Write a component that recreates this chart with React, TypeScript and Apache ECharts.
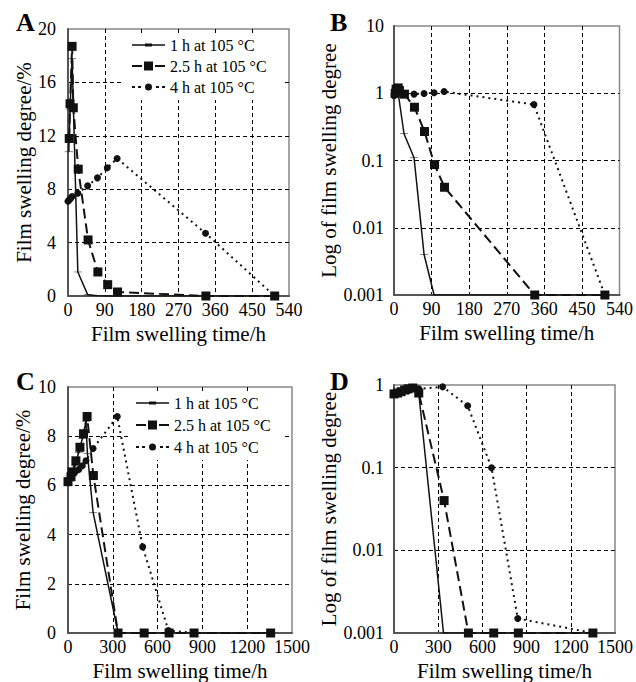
import React, { useEffect, useRef } from 'react';
import * as echarts from 'echarts';

const FONT = 'Liberation Serif';

const seriesNames = ['1 h at 105 °C', '2.5 h at 105 °C', '4 h at 105 °C'];

// Panel A: swelling degree (%) vs time (h)
const a1h = [[2, 10.8], [5, 14.0], [10, 17.8], [24, 1.8], [48, 0.1], [72, 0.02], [96, 0], [120, 0], [336, 0], [504, 0]];
const a25h = [[3, 11.8], [5, 14.4], [10, 18.7], [13, 14.1], [25, 9.5], [49, 4.2], [73, 1.8], [97, 0.85], [121, 0.3], [337, 0], [505, 0]];
const a4h = [[0, 7.1], [3, 7.2], [6, 7.3], [10, 7.45], [24, 7.7], [48, 8.25], [72, 8.85], [96, 9.6], [120, 10.3], [336, 4.7], [505, 0]];

// Panel B: log of swelling degree vs time (h)
const b1h = [[0, 1.0], [3, 1.05], [6, 1.1], [10, 1.0], [24, 0.25], [48, 0.11], [72, 0.004], [96, 0.001], [337, 0.001], [505, 0.001]];
const b25h = [[3, 1.0], [5, 1.15], [10, 1.2], [13, 1.1], [25, 0.97], [49, 0.62], [73, 0.27], [97, 0.087], [121, 0.04], [337, 0.001], [505, 0.001]];
const b4h = [[0, 0.92], [3, 0.95], [6, 1.0], [10, 1.0], [24, 0.97], [48, 0.97], [72, 0.99], [96, 1.02], [120, 1.06], [335, 0.68], [505, 0.001]];

// Panel C: swelling degree (%) vs time (h)
const c1h = [[0, 6.3], [24, 6.5], [48, 6.8], [72, 7.35], [96, 7.9], [120, 8.6], [130, 7.3], [168, 4.9], [336, 0], [504, 0], [672, 0], [840, 0], [1344, 0]];
const c25h = [[0, 6.15], [20, 6.35], [27, 6.55], [53, 7.0], [80, 7.55], [104, 8.1], [128, 8.8], [170, 6.4], [335, 0], [510, 0], [677, 0], [844, 0], [1357, 0]];
const c4h = [[0, 6.2], [24, 6.4], [48, 6.55], [72, 6.65], [96, 6.8], [120, 7.0], [168, 7.5], [330, 8.8], [500, 3.5], [672, 0.1], [844, 0], [1357, 0]];

// Panel D: log of swelling degree vs time (h)
const d1h = [[0, 0.8], [24, 0.82], [48, 0.85], [72, 0.88], [96, 0.9], [120, 0.9], [168, 0.8], [336, 0.001], [504, 0.001], [672, 0.001], [840, 0.001], [1344, 0.001]];
const d25h = [[0, 0.78], [24, 0.8], [48, 0.83], [72, 0.87], [96, 0.9], [128, 0.92], [168, 0.8], [340, 0.04], [505, 0.001], [677, 0.001], [844, 0.001], [1350, 0.001]];
const d4h = [[0, 0.8], [48, 0.82], [96, 0.85], [168, 0.9], [330, 0.95], [500, 0.56], [662, 0.1], [840, 0.0015], [1350, 0.001]];

const panelLetters = ['A', 'B', 'C', 'D'];
const xTitle = 'Film swelling time/h';
const yTitles = ['Film swelling degree/%', 'Log of film swelling degree', 'Film swelling degree/%', 'Log of film swelling degree'];

const panelData = [
  [a1h, a25h, a4h],
  [b1h, b25h, b4h],
  [c1h, c25h, c4h],
  [d1h, d25h, d4h],
];

const grids = [
  { left: 68, top: 29, width: 221, height: 267 },
  { left: 394, top: 26, width: 230, height: 269 },
  { left: 68, top: 387, width: 224, height: 246 },
  { left: 394, top: 385, width: 222, height: 249 },
];

const letterPos = [
  [16, 9], [330, 9], [16, 368], [330, 368],
];

const seriesStyles = [
  { symbol: 'path://M0,0h8v2h-8z', symbolSize: [8, 2], lineStyle: { type: 'solid', width: 1.5 } },
  { symbol: 'rect', symbolSize: 9, lineStyle: { type: [10, 5], width: 2 } },
  { symbol: 'circle', symbolSize: 7, lineStyle: { type: [2, 4], width: 2 } },
];

// legend icons: line pattern with marker, drawn in a 33 x 10 box
const legendIcons = [
  'path://M0,0.5h33v10h-33z',
  'path://M0,4.1h10v1.8h-10z M12,0.5h9v9h-9z M23,4.1h10v1.8h-10z',
  'path://M0,4.1h3v1.8h-3z M6,4.1h3v1.8h-3z M13,5a3.5,3.5 0 1,0 7,0a3.5,3.5 0 1,0 -7,0z M24,4.1h3v1.8h-3z M30,4.1h3v1.8h-3z',
];
legendIcons[0] = 'path://M0,4.3h33v1.4h-33z M13,3.4h7v3.2h-7z';

const logFmt = (v: number) => {
  const e = Math.round(Math.log10(v));
  return e >= 0 ? String(Math.pow(10, e)) : Math.pow(10, e).toFixed(-e);
};

export default function App() {
  const ref = useRef<HTMLDivElement>(null);
  useEffect(() => {
    if (!ref.current) return;
    const chart = echarts.init(ref.current, undefined, { renderer: 'svg' });
    const splitLine = {
      show: true,
      showMinLine: false,
      showMaxLine: false,
      lineStyle: { color: '#000', type: [4, 3], width: 1 },
    };
    const axisLine = { show: true, onZero: false, lineStyle: { color: '#555', width: 2 } };
    const axisLabelBase = { color: '#000', fontFamily: FONT, fontSize: 18, fontWeight: 'normal' };
    const nameStyle = { color: '#000', fontFamily: FONT, fontSize: 21, fontWeight: 'normal' };

    const xAxis = grids.map((_, i) => ({
      type: 'value',
      gridIndex: i,
      min: 0,
      max: i < 2 ? 540 : 1500,
      interval: i < 2 ? 90 : 300,
      axisLine,
      axisTick: { show: false },
      axisLabel: { ...axisLabelBase, margin: 5, formatter: (v: number) => String(v) },
      splitLine,
      name: xTitle,
      nameLocation: 'middle',
      nameGap: 27,
      nameTextStyle: nameStyle,
    }));

    const yAxis = grids.map((_, i) => {
      const base: any = {
        gridIndex: i,
        axisLine,
        axisTick: { show: false },
        splitLine,
        name: yTitles[i],
        nameLocation: 'middle',
        nameRotate: 90,
        nameTextStyle: nameStyle,
      };
      if (i === 0) return { ...base, type: 'value', min: 0, max: 20, interval: 4, nameGap: 34, axisLabel: { ...axisLabelBase, margin: 12 } };
      if (i === 2) return { ...base, type: 'value', min: 0, max: 10, interval: 2, nameGap: 35, axisLabel: { ...axisLabelBase, margin: 12 } };
      return {
        ...base,
        type: 'log',
        logBase: 10,
        min: 0.001,
        max: i === 1 ? 10 : 1,
        nameGap: 54,
        axisLabel: { ...axisLabelBase, margin: 10, formatter: logFmt },
      };
    });

    const series: any[] = [];
    panelData.forEach((sets, gi) => {
      sets.forEach((data, si) => {
        const st = seriesStyles[si];
        series.push({
          type: 'line',
          name: seriesNames[si],
          xAxisIndex: gi,
          yAxisIndex: gi,
          data,
          symbol: st.symbol,
          symbolSize: st.symbolSize,
          symbolKeepAspect: true,
          showAllSymbol: true,
          itemStyle: { color: '#111' },
          lineStyle: { ...st.lineStyle, color: '#111' },
          z: 3 + (2 - si),
        });
      });
    });

    const legendBase = {
      orient: 'vertical',
      data: seriesNames.map((n, i) => ({ name: n, icon: legendIcons[i] })),
      itemWidth: 33,
      itemHeight: 10,
      itemGap: 3,
      backgroundColor: '#fff',
      selectedMode: false,
      itemStyle: { color: '#111', borderWidth: 0 },
      textStyle: { color: '#000', fontFamily: FONT, fontSize: 16, lineHeight: 18 },
    };

    chart.setOption({
      animation: false,
      backgroundColor: '#fff',
      textStyle: { fontFamily: FONT },
      grid: grids.map((g) => ({ ...g, show: true, borderColor: '#888', borderWidth: 1.5, backgroundColor: 'transparent' })),
      xAxis,
      yAxis,
      legend: [
        { ...legendBase, left: 124, top: 36, padding: [0, 16, 4, 8] },
        { ...legendBase, left: 128, top: 394, padding: [0, 14, 4, 8], itemGap: 4 },
      ],
      series,
      graphic: panelLetters.map((t, i) => ({
        type: 'text',
        x: letterPos[i][0],
        y: letterPos[i][1],
        style: {
          text: t,
          fill: '#000',
          fontFamily: FONT,
          fontSize: 26,
          fontWeight: 'bold',
          verticalAlign: 'top',
        },
      })),
    });
    return () => chart.dispose();
  }, []);
  return <div ref={ref} style={{ position: 'absolute', left: 0, top: 0, width: 636, height: 682 }} />;
}
